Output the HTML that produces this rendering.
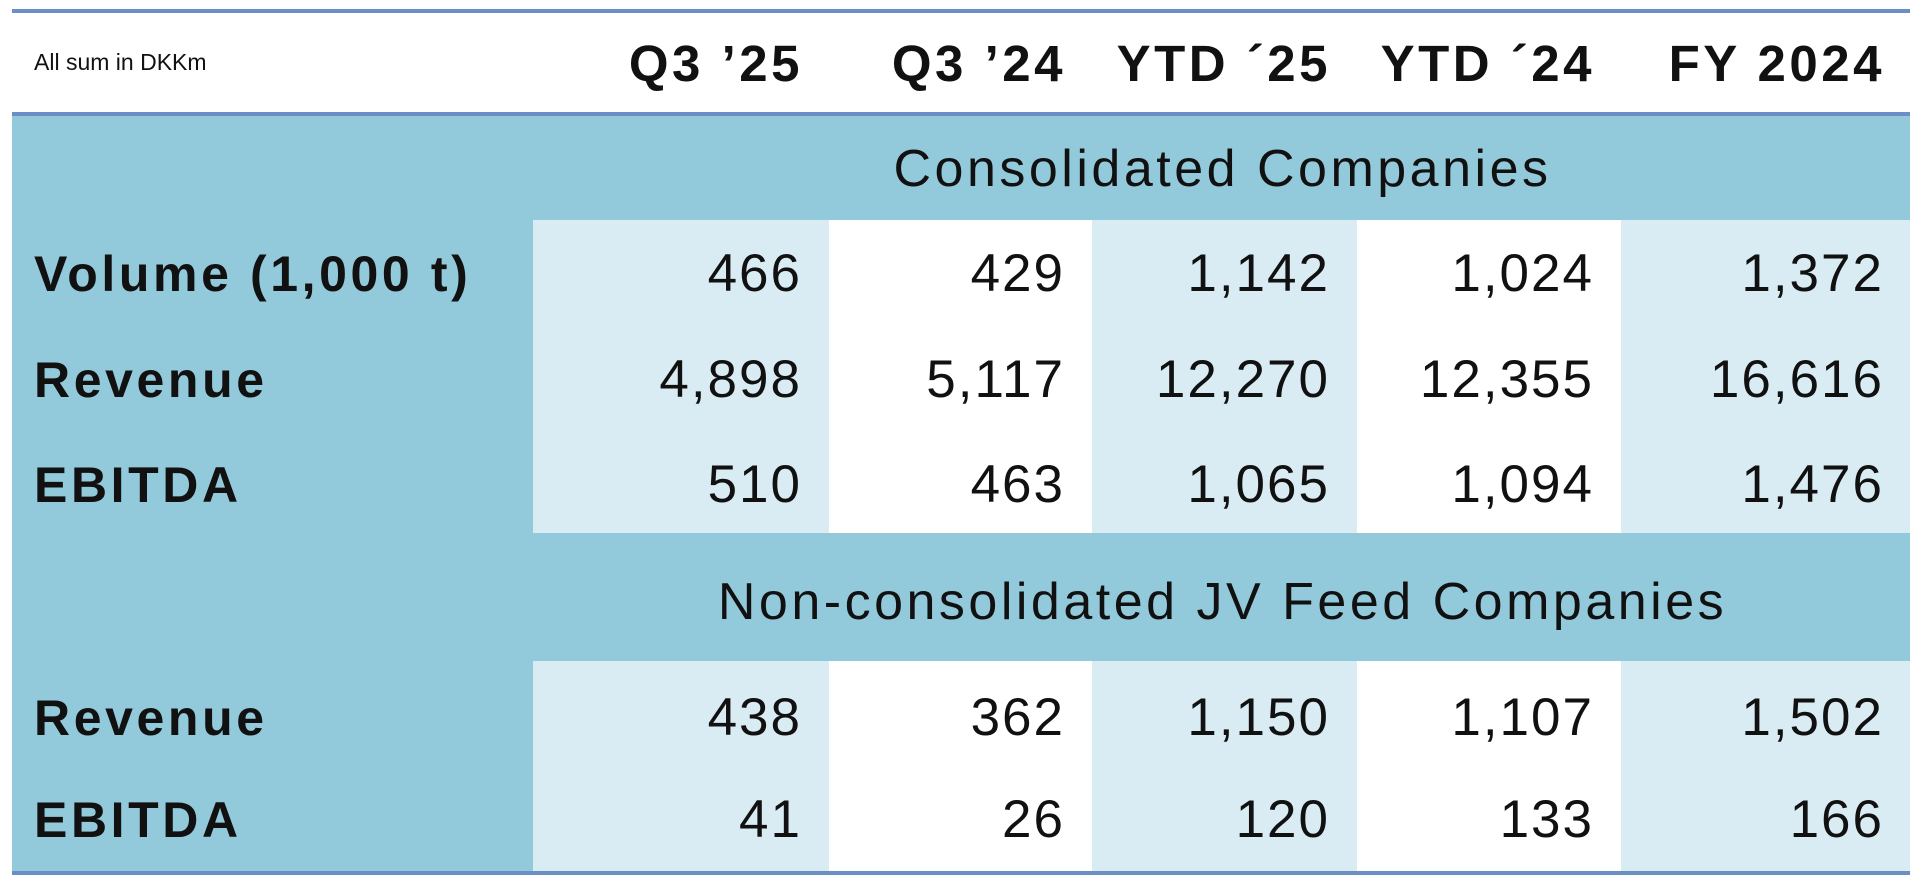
<!DOCTYPE html>
<html><head><meta charset="utf-8"><style>
body{margin:0;width:1920px;height:879px;background:#fff;position:relative;overflow:hidden;font-family:"Liberation Sans",sans-serif;color:#111}
div{position:absolute;box-sizing:border-box;white-space:nowrap}
.line{left:12px;width:1898px;height:4px;background:#6b8fc4}
.blue{left:12px;top:116px;width:1898px;height:756px;background:#93cadb}
.c{height:313px}
.l{background:#daecf3}.w{background:#fff}
.n{font-size:53px;text-align:right;line-height:60px;letter-spacing:2px}
.h{font-size:51px;font-weight:bold;text-align:right;top:34px;line-height:60px;letter-spacing:3.5px}
.r{font-size:50px;font-weight:bold;left:34px;line-height:60px;letter-spacing:3.6px}
.s{font-size:52px;text-align:center;left:533px;width:1379px;line-height:60px;letter-spacing:3.5px}
</style></head><body>
<div class="line" style="top:9px"></div>
<div style="left:34px;top:48px;font-size:23px;line-height:28px">All sum in DKKm</div>
<div class="h" style="left:533px;width:270px">Q3 ’25</div>
<div class="h" style="left:829px;width:237px">Q3 ’24</div>
<div class="h" style="left:1092px;width:239px">YTD ´25</div>
<div class="h" style="left:1357px;width:238px">YTD ´24</div>
<div class="h" style="left:1621px;width:264px">FY 2024</div>
<div class="line" style="top:112px"></div>
<div class="blue"></div>
<div class="s" style="top:139px">Consolidated Companies</div>
<div class="c l" style="left:533px;top:220px;width:296px"></div>
<div class="c w" style="left:829px;top:220px;width:263px"></div>
<div class="c l" style="left:1092px;top:220px;width:265px"></div>
<div class="c w" style="left:1357px;top:220px;width:264px"></div>
<div class="c l" style="left:1621px;top:220px;width:289px"></div>
<div class="s" style="top:572px">Non-consolidated JV Feed Companies</div>
<div class="c l" style="left:533px;top:661px;width:296px;height:211px"></div>
<div class="c w" style="left:829px;top:661px;width:263px;height:211px"></div>
<div class="c l" style="left:1092px;top:661px;width:265px;height:211px"></div>
<div class="c w" style="left:1357px;top:661px;width:264px;height:211px"></div>
<div class="c l" style="left:1621px;top:661px;width:289px;height:211px"></div>
<div class="line" style="top:871px"></div>

<div class="r" style="top:244px">Volume (1,000 t)</div>
<div class="r" style="top:350px">Revenue</div>
<div class="r" style="top:455px">EBITDA</div>
<div class="r" style="top:688px">Revenue</div>
<div class="r" style="top:790px">EBITDA</div>

<div class="n" style="left:533px;width:269px;top:244px">466</div>
<div class="n" style="left:829px;width:236px;top:244px">429</div>
<div class="n" style="left:1092px;width:238px;top:244px">1,142</div>
<div class="n" style="left:1357px;width:237px;top:244px">1,024</div>
<div class="n" style="left:1621px;width:263px;top:244px">1,372</div>

<div class="n" style="left:533px;width:269px;top:350px">4,898</div>
<div class="n" style="left:829px;width:236px;top:350px">5,117</div>
<div class="n" style="left:1092px;width:238px;top:350px">12,270</div>
<div class="n" style="left:1357px;width:237px;top:350px">12,355</div>
<div class="n" style="left:1621px;width:263px;top:350px">16,616</div>

<div class="n" style="left:533px;width:269px;top:455px">510</div>
<div class="n" style="left:829px;width:236px;top:455px">463</div>
<div class="n" style="left:1092px;width:238px;top:455px">1,065</div>
<div class="n" style="left:1357px;width:237px;top:455px">1,094</div>
<div class="n" style="left:1621px;width:263px;top:455px">1,476</div>

<div class="n" style="left:533px;width:269px;top:688px">438</div>
<div class="n" style="left:829px;width:236px;top:688px">362</div>
<div class="n" style="left:1092px;width:238px;top:688px">1,150</div>
<div class="n" style="left:1357px;width:237px;top:688px">1,107</div>
<div class="n" style="left:1621px;width:263px;top:688px">1,502</div>

<div class="n" style="left:533px;width:269px;top:790px">41</div>
<div class="n" style="left:829px;width:236px;top:790px">26</div>
<div class="n" style="left:1092px;width:238px;top:790px">120</div>
<div class="n" style="left:1357px;width:237px;top:790px">133</div>
<div class="n" style="left:1621px;width:263px;top:790px">166</div>
</body></html>
